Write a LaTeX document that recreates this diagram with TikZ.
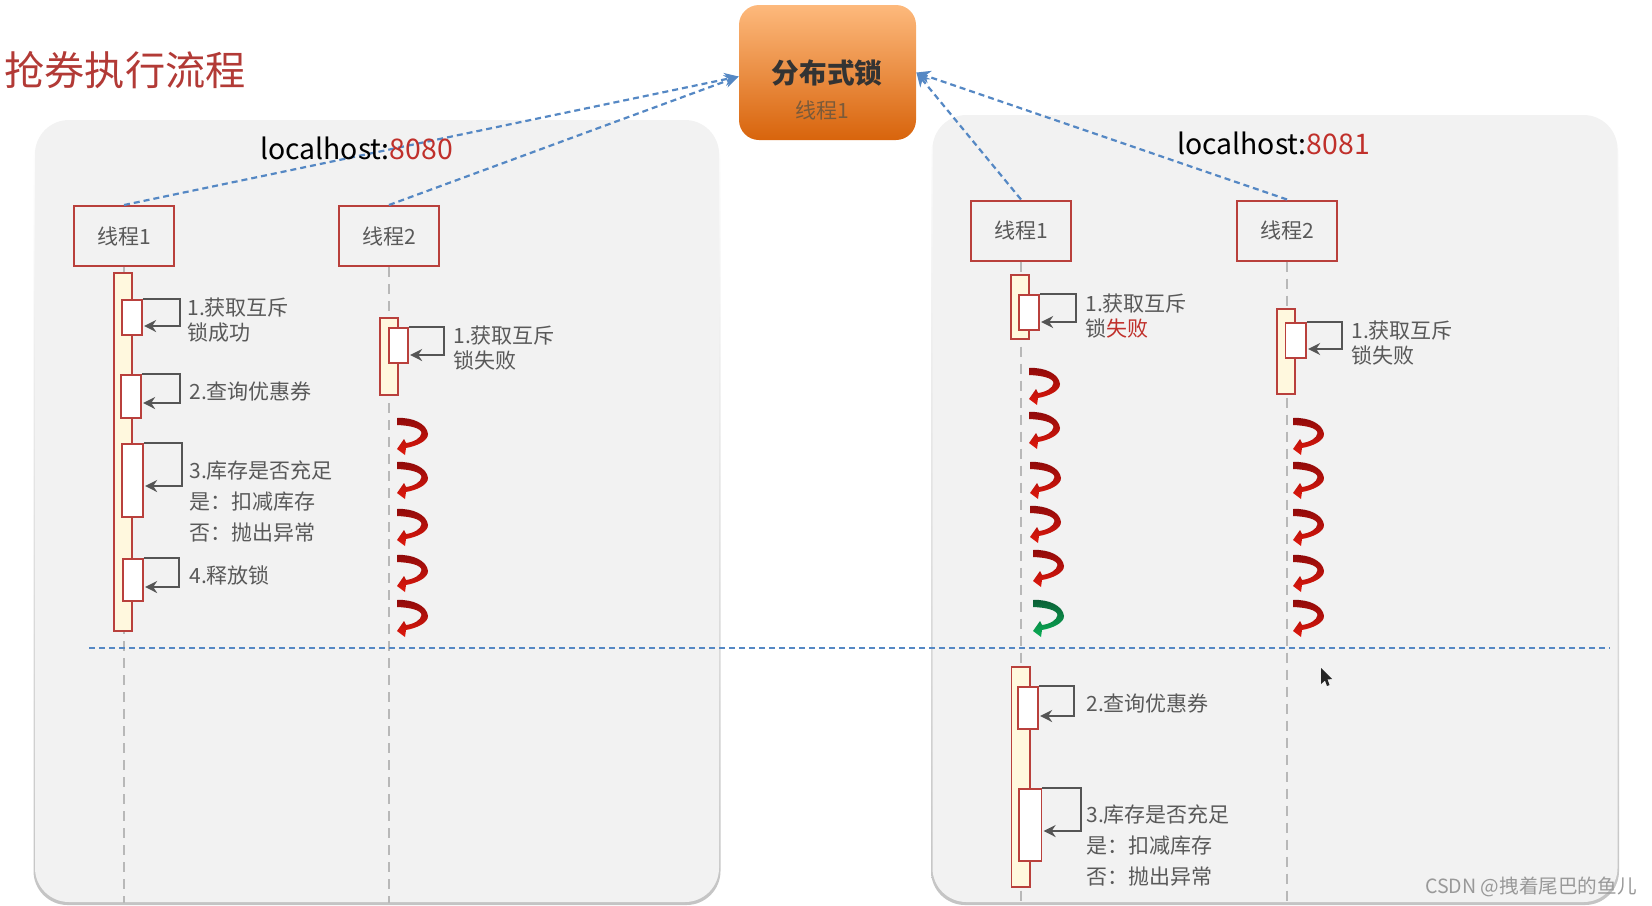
\documentclass[tikz,border=0pt]{standalone}
\usepackage{fontspec}
\setmainfont{Noto Sans CJK SC}
\usetikzlibrary{arrows.meta, fit}

\definecolor{PanelFill}{HTML}{F2F2F2}
\definecolor{PanelEdge}{HTML}{C4C4C4}
\definecolor{BoxEdge}{HTML}{B9403C}
\definecolor{BarFill}{HTML}{FFF8DE}
\definecolor{LoopLine}{HTML}{555555}
\definecolor{LabelText}{HTML}{595959}
\definecolor{LinkBlue}{HTML}{5588C4}
\definecolor{PortRed}{HTML}{C0302B}
\definecolor{TitleRed}{HTML}{B23A36}
\definecolor{SwirlDark}{HTML}{8E0A0A}
\definecolor{SwirlRed}{HTML}{E0180C}
\definecolor{SwirlDarkGreen}{HTML}{0B5E36}
\definecolor{SwirlGreen}{HTML}{0AAE55}
\definecolor{LockTop}{HTML}{FDB97C}
\definecolor{LockMid}{HTML}{F09A48}
\definecolor{LockBottom}{HTML}{D8640C}
\definecolor{LockSub}{HTML}{7A5A3A}

\tikzset{
  panel/.style={fill=PanelFill, rounded corners=17pt},
  panelshadow/.style={top color=white, bottom color=PanelEdge, rounded corners=17pt},
  threadbox/.style={draw=BoxEdge, line width=1pt, minimum width=50pt, minimum height=30pt,
    inner sep=0pt, text=LabelText, font=\fontsize{10.5}{12}\selectfont},
  lifeline/.style={draw=black!28, line width=0.7pt, dash pattern=on 5pt off 3.5pt},
  mainbar/.style={draw=BoxEdge, fill=BarFill, line width=0.9pt, inner sep=0pt},
  subbar/.style={draw=BoxEdge, fill=white, line width=0.9pt, inner sep=0pt},
  selfloop/.style={draw=LoopLine, line width=1pt, -{Stealth[length=6pt,width=6pt]}, shorten >=0.6pt},
  link/.style={draw=LinkBlue, line width=1.1pt, dash pattern=on 3pt off 2pt,
    -{Stealth[length=7pt,width=6.5pt]}},
  steplabel/.style={anchor=west, inner sep=0pt, align=left, text=LabelText,
    font=\fontsize{10.5}{12.5}\selectfont},
  portlabel/.style={inner sep=0pt, anchor=center, font=\fontsize{14.2}{17}\selectfont},
}

% Barra de actividad entre dos esquinas
\newcommand{\ActBox}[6]{
  \coordinate (#2a) at (#3,#4);
  \coordinate (#2b) at (#5,#6);
  \node[#1, fit=(#2a)(#2b)] (#2) {};
}
% Flecha de una barra hacia ella misma
\newcommand{\SelfLoop}[3]{
  \draw[selfloop] (#1.north east) -| (#2,#3) -- (#1.east |- 0,#3);
}
% Flecha curva, esquina superior izquierda en (#1,#2)
\newcommand{\Swirl}[4]{
  \shade[shift={(#1,#2)}, top color=#3, bottom color=#4]
    (0,0) .. controls (16,-1) and (30,6) .. (31,16)
    .. controls (31,23) and (20,28) .. (9,30)
    -- (8,37) -- (0,31) -- (7,21) -- (9,25)
    .. controls (17,24) and (24,20) .. (24.5,15)
    .. controls (24,10) and (13,7.5) .. (0,7) -- cycle;
}

\begin{document}
\begin{tikzpicture}[x=0.5pt, y=-0.5pt]
\useasboundingbox (0,0) rectangle (1652,905);

\coordinate (sepL) at (89,648);
\coordinate (sepR) at (1610,648);
\coordinate (bottomEnd) at (0,903);

% Paneles
\shade[panelshadow] (33.5,125) rectangle (720.5,905);
\shade[panelshadow] (931,120) rectangle (1619,905);
\fill[panel] (35,120) rectangle (719,902);
\fill[panel] (932.5,115) rectangle (1617.5,902);

% Titulo y nodo del candado
\node[anchor=west, inner sep=0pt, text=TitleRed, font=\fontsize{20.1}{24}\selectfont] (title) at (4,70) {抢券执行流程};

\node[rounded corners=10pt, minimum width=88.5pt, minimum height=67.5pt, inner sep=0pt,
  top color=LockTop, middle color=LockMid, bottom color=LockBottom] (lock) at (827.5,72.5) {};
\node[inner sep=0pt, text=black!80, font=\fontsize{13.8}{16}\selectfont\bfseries] (lockname) at (827,73) {分布式锁};
\node[inner sep=0pt, text=LockSub, font=\fontsize{10.5}{12}\selectfont] (lockthread) at (822,110) {线程1};

% Hilos
\node[threadbox] (Lone) at (124,236) {\raisebox{0.5pt}{线程1}};
\node[threadbox] (Ltwo) at (389,236) {\raisebox{0.5pt}{线程2}};
\node[threadbox] (Rone) at (1021,230.5) {线程1};
\node[threadbox] (Rtwo) at (1287,230.5) {线程2};

% Lineas de vida
\foreach \hilo in {Lone, Ltwo, Rone, Rtwo} {
  \draw[lifeline] (\hilo.south) -- (\hilo.south |- bottomEnd);
}

% Flechas hacia el candado
\draw[link] (Lone.north) -- ([yshift=-2pt]lock.west);
\draw[link] (Ltwo.north) -- ([yshift=-2pt]lock.west);
\draw[link] (Rone.north) -- (lock.east);
\draw[link] (Rtwo.north) -- (lock.east);
\draw[link, -] (sepL) -- (sepR);

\node[portlabel] (portL) at (356.5,148) {localhost:\textcolor{PortRed}{8080}};
\node[portlabel] (portR) at (1273.5,143) {localhost:\textcolor{PortRed}{8081}};

% Barras de la columna izquierda
\ActBox{mainbar}{LoneMain}{114}{273}{132}{631}
\ActBox{subbar}{LoneA}{122}{300}{142}{335}
\ActBox{subbar}{LoneB}{121}{375}{141}{418}
\ActBox{subbar}{LoneC}{122}{444}{143}{517}
\ActBox{subbar}{LoneD}{123}{559}{143}{601}
\SelfLoop{LoneA}{180}{326}
\SelfLoop{LoneB}{180}{403}
\SelfLoop{LoneC}{182}{486}
\SelfLoop{LoneD}{179}{587}

\ActBox{mainbar}{LtwoMain}{380}{318}{398}{395}
\ActBox{subbar}{LtwoA}{389}{328}{408}{363}
\SelfLoop{LtwoA}{444}{355}

% Barras de la columna derecha
\ActBox{mainbar}{RoneMain}{1011}{275}{1029}{339}
\ActBox{subbar}{RoneA}{1019}{295}{1039}{330}
\SelfLoop{RoneA}{1076}{322}

\ActBox{mainbar}{RtwoMain}{1277}{309}{1295}{394}
\ActBox{subbar}{RtwoA}{1285.5}{323}{1306}{358}
\SelfLoop{RtwoA}{1342}{349}

\ActBox{mainbar}{RoneLow}{1011.5}{667}{1030}{887}
\ActBox{subbar}{RoneB}{1018}{687}{1038}{729}
\ActBox{subbar}{RoneC}{1019}{789}{1041.5}{861}
\SelfLoop{RoneB}{1074}{716}
\SelfLoop{RoneC}{1080.5}{831}

% Flechas curvas
\foreach \yy in {418,462,509,555,600} {
  \Swirl{397}{\yy}{SwirlDark}{SwirlRed}
  \Swirl{1293}{\yy}{SwirlDark}{SwirlRed}
}
\Swirl{1029}{368}{SwirlDark}{SwirlRed}
\Swirl{1029}{412}{SwirlDark}{SwirlRed}
\Swirl{1030}{462}{SwirlDark}{SwirlRed}
\Swirl{1030}{506}{SwirlDark}{SwirlRed}
\Swirl{1033}{550}{SwirlDark}{SwirlRed}
\Swirl{1033}{600}{SwirlDarkGreen}{SwirlGreen}

% Textos de los pasos
\node[steplabel] (stepLa) at (187,320.5) {1.获取互斥\\锁成功};
\node[steplabel] (stepLb) at (189,391) {2.查询优惠券};
\node[steplabel] (stepLc) at (189,501) {3.库存是否充足\\[3pt]是：扣减库存\\[3pt]否：抛出异常};
\node[steplabel] (stepLd) at (189,575) {4.释放锁};
\node[steplabel] (stepLe) at (453,348.5) {1.获取互斥\\锁失败};
\node[steplabel] (stepRa) at (1085,316.5) {1.获取互斥\\锁\textcolor{PortRed}{失败}};
\node[steplabel] (stepRb) at (1351,343.5) {1.获取互斥\\锁失败};
\node[steplabel] (stepRc) at (1086,703) {2.查询优惠券};
\node[steplabel] (stepRd) at (1086,845) {3.库存是否充足\\[3pt]是：扣减库存\\[3pt]否：抛出异常};

% Puntero y marca de agua
\fill[black!85] (1321,668) -- (1321,684) -- (1325,680.5) -- (1327,686) -- (1329.5,685) -- (1327.5,679.5) -- (1332,679) -- cycle;
\node[anchor=east, inner sep=0pt, text=black!40, font=\fontsize{9.8}{11}\selectfont] (mark) at (1637,887) {CSDN @拽着尾巴的鱼儿};

\end{tikzpicture}
\end{document}
